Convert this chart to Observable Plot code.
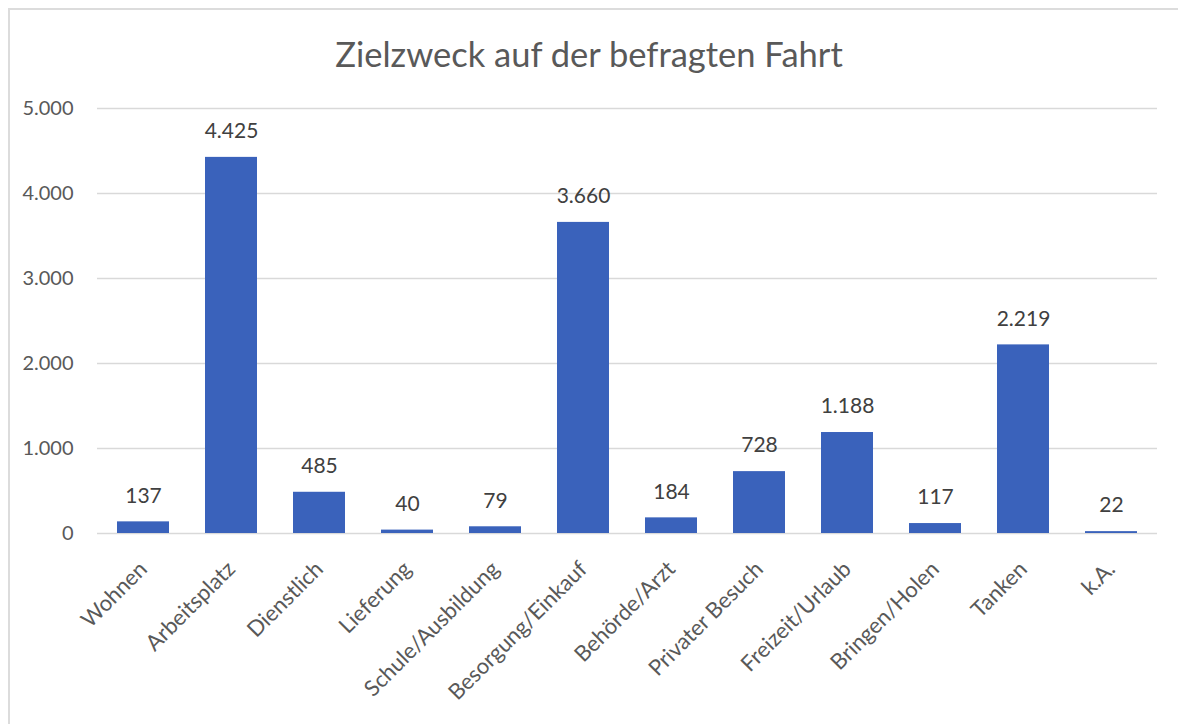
<!DOCTYPE html>
<html>
<head>
<meta charset="utf-8">
<script src="https://cdn.jsdelivr.net/npm/d3@7"></script>
<script src="https://cdn.jsdelivr.net/npm/@observablehq/plot@0.6"></script>
<style>
  html, body { margin: 0; padding: 0; background: #fff; }
  #wrap { position: relative; width: 1178px; height: 724px; overflow: hidden; font-family: Lato, "Open Sans", sans-serif; }
  #frame { position: absolute; left: 8px; top: 8px; right: 0; bottom: 0; border-top: 2px solid #dcdcdc; border-left: 2px solid #dcdcdc; pointer-events: none; }
  #title { position: absolute; left: 0; top: 0; width: 1178px; height: 90px; text-align: center; font-size: 34.5px; color: #595959; line-height: 90px; padding-top: 9px; box-sizing: border-box; }
  #chart { position: absolute; left: 0; top: 90px; }
</style>
</head>
<body>
<div id="wrap">
  <div id="frame"></div>
  <div id="title">Zielzweck auf der befragten Fahrt</div>
  <div id="chart"></div>
</div>
<script>
const categories = ["Wohnen","Arbeitsplatz","Dienstlich","Lieferung","Schule/Ausbildung","Besorgung/Einkauf","Behörde/Arzt","Privater Besuch","Freizeit/Urlaub","Bringen/Holen","Tanken","k.A."];
const values = [137, 4425, 485, 40, 79, 3660, 184, 728, 1188, 117, 2219, 22];
const yTicks = [0, 1000, 2000, 3000, 4000, 5000];

const de = d3.formatLocale({decimal: ",", thousands: ".", grouping: [3], currency: ["", " €"]});
const fmt = de.format(",d");

const data = categories.map((c, i) => ({category: c, value: values[i]}));

const chart = Plot.plot({
  width: 1178,
  height: 634,
  marginTop: 18,
  marginBottom: 191,
  marginLeft: 97,
  marginRight: 21,
  style: {fontFamily: "Lato, 'Open Sans', sans-serif", fontSize: "20px", color: "#595959", background: "transparent"},
  x: {domain: categories, paddingInner: 0.41, paddingOuter: 0.205, label: null},
  y: {domain: [0, 5000], ticks: yTicks, tickFormat: fmt, label: null, tickSize: 0, tickPadding: 24},
  marks: [
    Plot.ruleY(yTicks, {stroke: "#d9d9d9", strokeWidth: 1.5}),
    Plot.barY(data, {x: "category", y: "value", fill: "#3a62bb"}),
    Plot.text(data, {x: "category", y: "value", text: d => fmt(d.value), dy: -26, fill: "#404040", fontSize: 21}),
    Plot.axisX({tickSize: 0, tickRotate: -45, tickPadding: 32, fontSize: 22, label: null})
  ]
});
document.getElementById("chart").appendChild(chart);
</script>
</body>
</html>
